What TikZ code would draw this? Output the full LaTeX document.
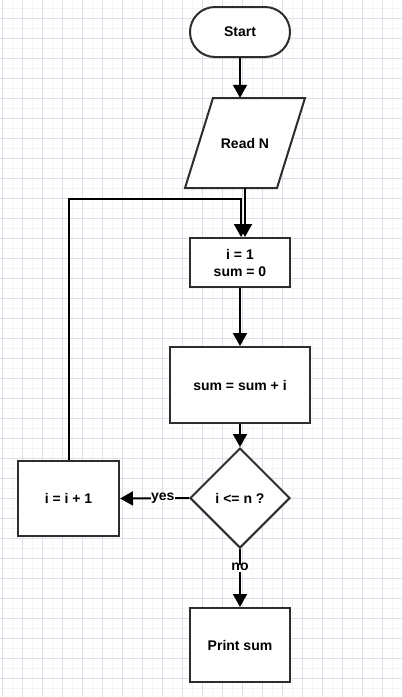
\documentclass[tikz,border=0pt]{standalone}
\usepackage{fontspec}
\setmainfont{Liberation Sans}
\usetikzlibrary{arrows.meta,shapes.geometric}
\definecolor{gridmajor}{RGB}{222,222,232}
\definecolor{gridminor}{RGB}{243,243,248}
\definecolor{shapeline}{RGB}{45,45,45}
\tikzset{
  box/.style={draw=shapeline, line width=2pt, fill=white, rectangle, inner sep=0pt,
    font=\bfseries\fontsize{14}{17}\selectfont, align=center},
  flow/.style={draw=black, line width=2pt, -{Triangle[length=13pt,width=14pt]}},
  edgelabel/.style={fill=white, inner xsep=0.5pt, inner ysep=1pt, text height=1ex, text depth=0pt,
    font=\bfseries\fontsize{14}{17}\selectfont}
}
\begin{document}
\begin{tikzpicture}[x=1pt,y=-1pt]
\useasboundingbox (0,0) rectangle (403,697);
\fill[white] (0,0) rectangle (403,697);
% grid
\foreach \x in {-7.5,2.5,...,403} {\draw[gridminor, line width=0.8pt] (\x,0) -- (\x,697);}
\foreach \y in {-1.7,8.3,...,697} {\draw[gridminor, line width=0.8pt] (0,\y) -- (403,\y);}
\foreach \x in {2.5,22.5,...,403} {\draw[gridmajor, line width=0.8pt] (\x,0) -- (\x,697);}
\foreach \y in {18.3,38.3,...,697} {\draw[gridmajor, line width=0.8pt] (0,\y) -- (403,\y);}
% nodes
\node[box, rounded corners=25pt, minimum width=100pt, minimum height=50pt] (start) at (240,32) {Start};
\draw[shapeline, line width=2pt, fill=white] (213,98) -- (305,98) -- (277,188) -- (185,188) -- cycle;
\node[rectangle, inner sep=0pt, minimum width=60pt, minimum height=90pt, font=\bfseries\fontsize{14}{17}\selectfont] (read) at (245,143) {Read N};
\node[box, minimum width=100pt, minimum height=49pt] (init) at (240,262.5) {i = 1\\sum = 0};
\node[box, minimum width=140pt, minimum height=76pt] (sum) at (240,385) {sum = sum + i};
\node[box, shape=diamond, minimum width=100pt, minimum height=100pt] (cond) at (240,498) {i <= n ?};
\node[box, minimum width=101pt, minimum height=75pt] (inc) at (68.5,498.5) {i = i + 1};
\node[box, minimum width=100pt, minimum height=74pt] (print) at (240,645) {Print sum};
\coordinate (loopc) at (241,199);
% connectors
\draw[flow] (start.south) -- (start.south |- read.north);
\draw[flow] (read.south) -- (read.south |- init.north);
\draw[flow] (inc.north) |- (loopc) -- (loopc |- init.north);
\draw[flow] (init.south) -- (sum.north);
\draw[flow] (sum.south) -- (cond.north);
\draw[flow] (cond.west) -- node[edgelabel, pos=0.38] {yes} (inc.east);
\draw[flow] (cond.south) -- node[edgelabel, pos=0.33] {no} (print.north);
\end{tikzpicture}
\end{document}
